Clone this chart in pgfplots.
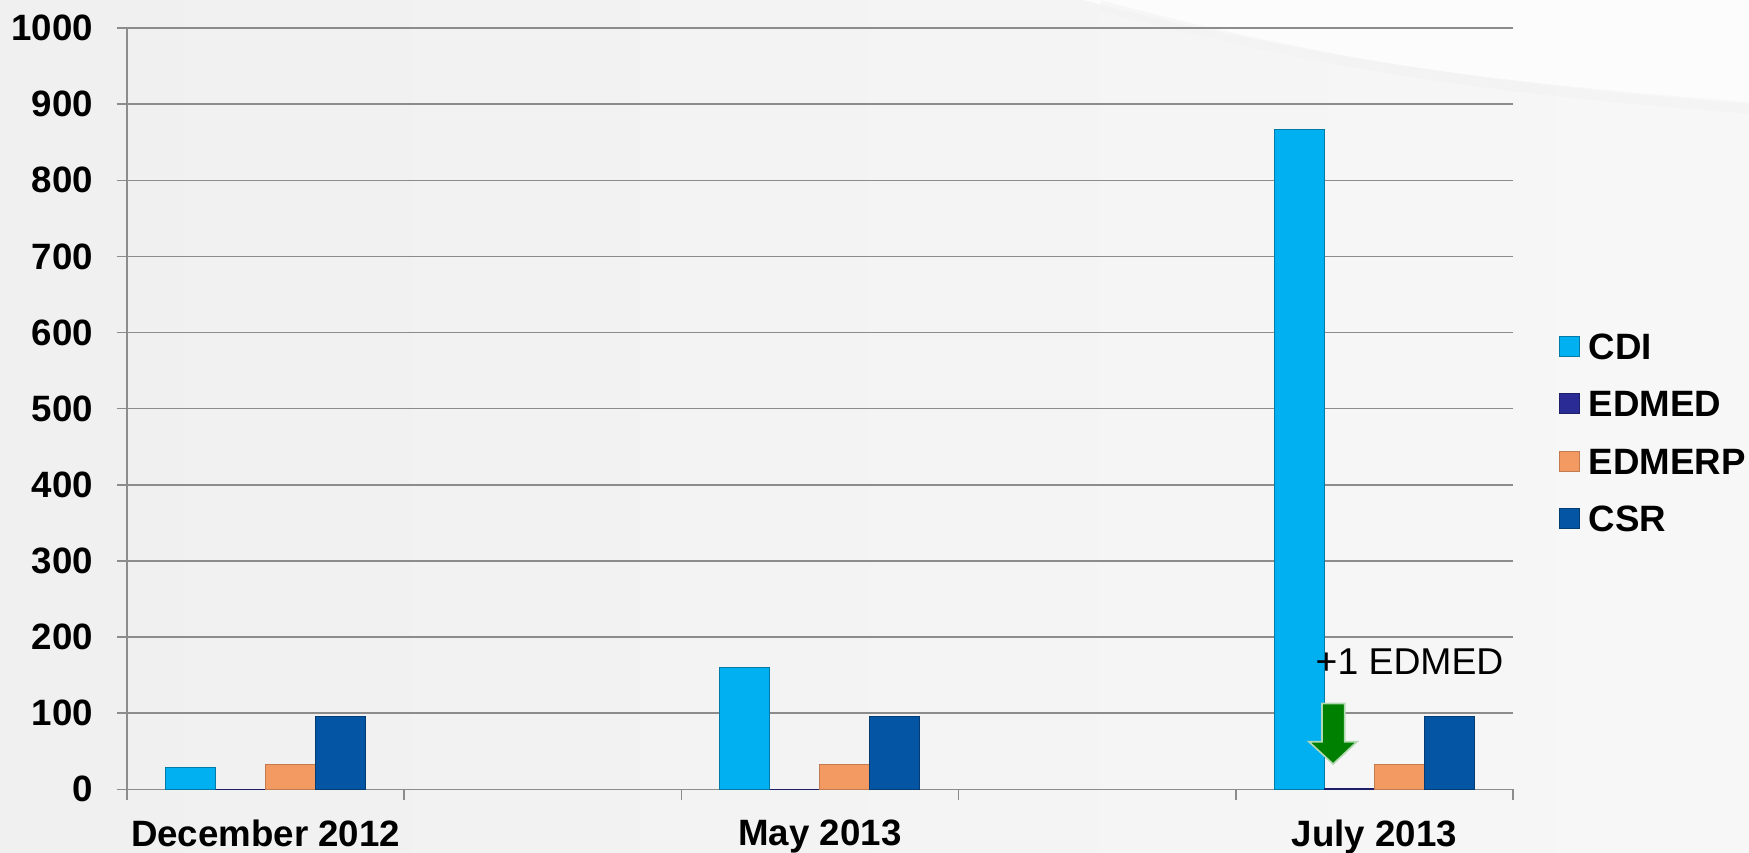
\documentclass[border=0pt]{standalone}
\usepackage{pgfplots}
\usepackage{pgfplotstable}
\pgfplotsset{compat=1.18}
\usepackage{fontspec}
\setmainfont{Liberation Sans}
\definecolor{cdi}{HTML}{00B0F0}
\definecolor{edmed}{HTML}{2B2B96}
\definecolor{edmerp}{HTML}{F39A62}
\definecolor{csr}{HTML}{0455A4}
\definecolor{gridc}{HTML}{8C8C8C}
\definecolor{arrowg}{HTML}{008000}
\pgfplotstableread{
x CDI EDMED EDMERP CSR
0 29 0 32 95
2 160 0 32 95
4 867 1 33 95
}\datatable
\begin{document}
\begin{tikzpicture}
\shade[left color=black!6, right color=black!3] (0,0) rectangle (524.7pt,255.6pt);
\fill[white, opacity=0.75] (324.9pt,255.6pt) .. controls (400pt,236pt) and (460pt,230pt) .. (524.7pt,225pt) -- (524.7pt,255.6pt) -- cycle;
\draw[black!5, line width=3pt, opacity=0.6] (330pt,254pt) .. controls (405pt,234pt) and (460pt,228pt) .. (524.7pt,223pt);
\begin{axis}[
  at={(38.1pt,18.81pt)}, anchor=south west,
  scale only axis, width=415.8pt, height=228.39pt,
  ybar=0pt, bar width=15pt,
  xmin=-0.5, xmax=4.5, ymin=0, ymax=1000,
  axis lines*=left,
  axis line style={draw=gridc, line width=0.45pt},
  ytick={0,100,...,1000},
  ymajorgrids, grid style={draw=gridc, line width=0.45pt},
  xtick={0,2,4},
  xticklabels={December 2012, May 2013, July 2013},
  minor xtick={-0.5,0.5,1.5,2.5,3.5,4.5},
  tick align=outside,
  major tick length=3pt, minor tick length=3.3pt,
  major x tick style={draw=none},
  minor x tick style={draw=gridc, line width=0.45pt},
  major y tick style={draw=gridc, line width=0.45pt},
  /pgf/number format/assume math mode=true,
  /pgf/number format/1000 sep={},
  tick label style={font=\fontsize{11pt}{13pt}\selectfont\bfseries, inner sep=0pt},
  x tick label style={anchor=north, yshift=-6pt},
  y tick label style={anchor=east, xshift=-7pt},
  legend image code/.code={\draw[#1] (0pt,0.95pt) rectangle (6pt,6.95pt);},
  legend style={draw=none, fill=none, at={(1.0325,0.4687)}, anchor=west,
    inner sep=0pt, row sep=9.3pt, column sep=2.7pt,
    font=\fontsize{11pt}{13pt}\selectfont\bfseries,
    nodes={inner sep=0pt, text height=7.9pt, text depth=0pt, anchor=base west}},
  legend cell align=left,
  clip=false,
]
\addplot[fill=cdi, draw=cdi!70!black, line width=0.3pt] table[x=x,y=CDI] {\datatable};
\addplot[fill=edmed, draw=edmed!70!black, line width=0.3pt] table[x=x,y=EDMED] {\datatable};
\addplot[fill=edmerp, draw=edmerp!80!black, line width=0.3pt] table[x=x,y=EDMERP] {\datatable};
\addplot[fill=csr, draw=csr!70!black, line width=0.3pt] table[x=x,y=CSR] {\datatable};
\legend{CDI, EDMED, EDMERP, CSR}
\draw[fill=arrowg, draw=arrowg!30!white, line width=0.5pt]
  (axis cs:3.811,112.7) -- (axis cs:3.893,112.7) -- (axis cs:3.893,62.5)
  -- (axis cs:3.937,62.5) -- (axis cs:3.851,33.2) -- (axis cs:3.764,62.5)
  -- (axis cs:3.811,62.5) -- cycle;
\node[anchor=west, inner sep=0pt, font=\fontsize{11.2pt}{13pt}\selectfont]
  at (axis cs:3.786,167.6) {+1 EDMED};
\end{axis}
\pgfresetboundingbox
\useasboundingbox (0,0) rectangle (524.7pt,255.6pt);
\end{tikzpicture}
\end{document}
